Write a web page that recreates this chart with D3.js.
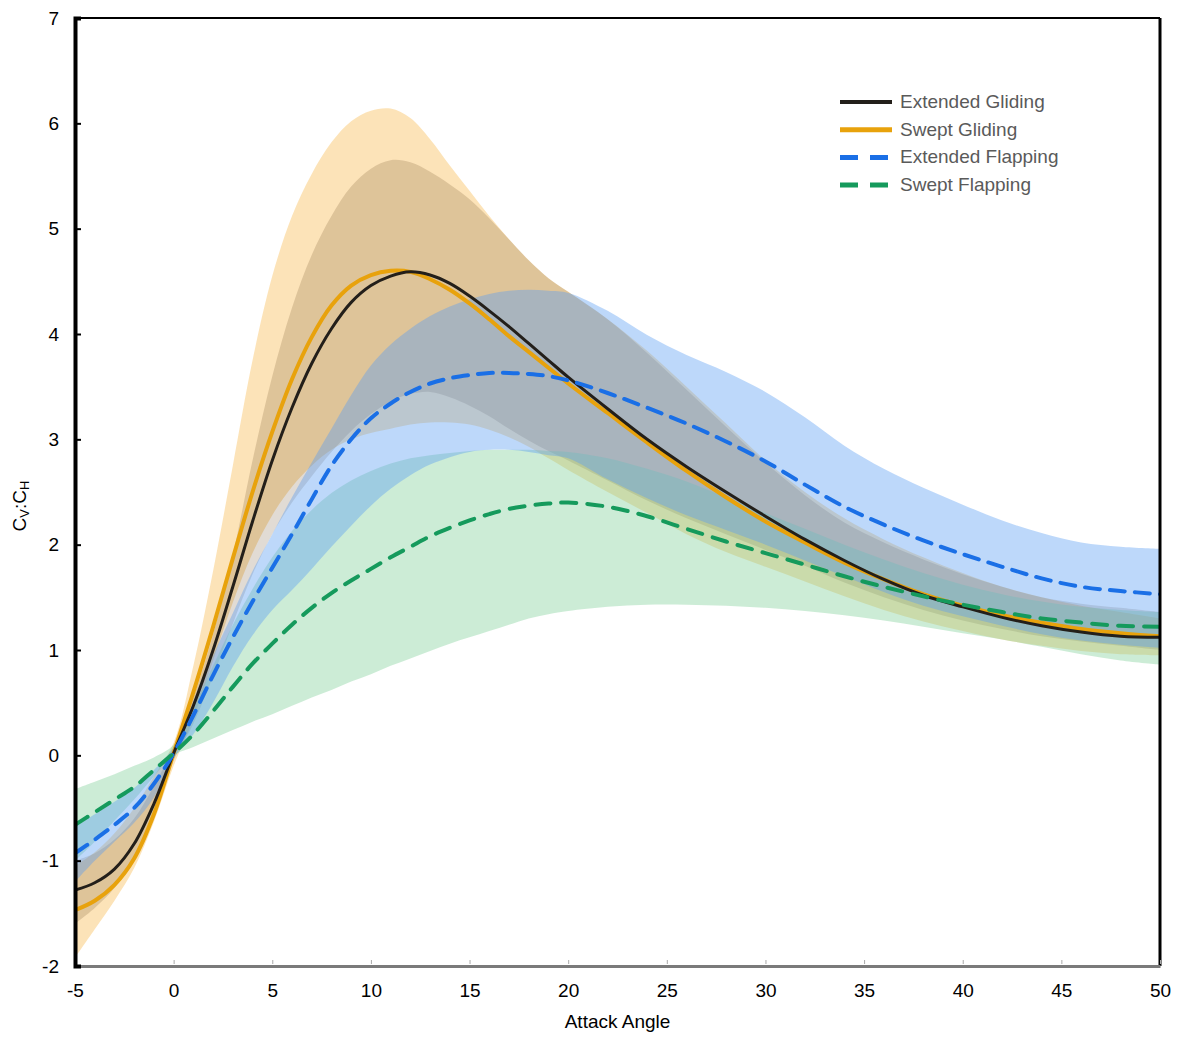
<!DOCTYPE html>
<html>
<head>
<meta charset="utf-8">
<script src="https://cdn.jsdelivr.net/npm/d3@7"></script>
<style>
  body { margin: 0; background: #fff; }
  text { font-family: "Liberation Sans", Arial, sans-serif; }
</style>
</head>
<body>
<div class="chart"></div>
<script>
// attack angles where values were read
var angles = [-5, -4, -3, -2, -1, 0, 1, 2, 3, 4, 5, 6, 7, 8, 9, 10, 11, 12, 13, 14, 15, 16, 17, 18, 19, 20,
    22, 24, 26, 28, 30, 32, 34, 36, 38, 40, 42, 44, 46, 48, 50];

var extGlideMean = [-1.28, -1.21, -1.08, -0.84, -0.46, 0.02, 0.47, 1.0, 1.6, 2.22, 2.8, 3.3, 3.72, 4.05, 4.3, 4.46, 4.55, 4.59, 4.56, 4.48, 4.36, 4.22, 4.07, 3.91, 3.75, 3.59,
    3.29, 3.0, 2.74, 2.5, 2.27, 2.05, 1.85, 1.67, 1.52, 1.41, 1.31, 1.23, 1.17, 1.13, 1.12];
var extGlideHi = [-1.0, -0.93, -0.8, -0.6, -0.29, 0.08, 0.55, 1.15, 1.9, 2.8, 3.6, 4.25, 4.75, 5.12, 5.4, 5.57, 5.65, 5.63, 5.54, 5.42, 5.28, 5.1, 4.9, 4.7, 4.53, 4.4,
    4.14, 3.82, 3.47, 3.12, 2.78, 2.47, 2.21, 2.02, 1.86, 1.72, 1.6, 1.5, 1.44, 1.4, 1.36];
var extGlideLo = [-1.6, -1.45, -1.26, -1.0, -0.6, -0.05, 0.3, 0.75, 1.25, 1.72, 2.1, 2.4, 2.65, 2.88, 3.08, 3.24, 3.36, 3.43, 3.45, 3.4, 3.32, 3.22, 3.1, 2.99, 2.89, 2.8,
    2.61, 2.42, 2.25, 2.1, 1.95, 1.8, 1.64, 1.5, 1.38, 1.28, 1.2, 1.13, 1.08, 1.04, 1.0];

var swGlideMean = [-1.47, -1.38, -1.23, -0.98, -0.56, 0.02, 0.6, 1.22, 1.87, 2.5, 3.07, 3.57, 3.97, 4.27, 4.46, 4.56, 4.6, 4.59, 4.52, 4.42, 4.29, 4.14, 3.98, 3.83, 3.68, 3.53,
    3.25, 2.97, 2.7, 2.45, 2.22, 2.02, 1.83, 1.67, 1.53, 1.42, 1.33, 1.26, 1.2, 1.16, 1.13];
var swGlideHi = [-1.05, -0.92, -0.74, -0.5, -0.2, 0.12, 0.85, 1.75, 2.75, 3.75, 4.55, 5.12, 5.52, 5.82, 6.02, 6.12, 6.14, 6.05, 5.85, 5.6, 5.36, 5.12, 4.9, 4.7, 4.53, 4.4,
    4.14, 3.84, 3.5, 3.15, 2.8, 2.5, 2.25, 2.05, 1.88, 1.73, 1.6, 1.5, 1.42, 1.36, 1.3];
var swGlideLo = [-1.92, -1.65, -1.38, -1.07, -0.63, -0.1, 0.35, 0.9, 1.45, 1.92, 2.28, 2.55, 2.75, 2.9, 3.0, 3.06, 3.1, 3.14, 3.16, 3.16, 3.14, 3.09, 3.02, 2.93, 2.82, 2.71,
    2.5, 2.3, 2.1, 1.93, 1.79, 1.65, 1.51, 1.38, 1.27, 1.18, 1.1, 1.04, 0.99, 0.96, 0.95];

var extFlapMean = [-0.93, -0.8, -0.66, -0.5, -0.27, 0.02, 0.38, 0.76, 1.12, 1.46, 1.78, 2.1, 2.43, 2.75, 3.0, 3.2, 3.34, 3.45, 3.53, 3.58, 3.61, 3.63, 3.63, 3.62, 3.6, 3.56,
    3.44, 3.3, 3.15, 2.98, 2.79, 2.57, 2.36, 2.19, 2.04, 1.91, 1.79, 1.68, 1.6, 1.56, 1.53];
var extFlapHi = [-0.68, -0.56, -0.44, -0.31, -0.14, 0.08, 0.5, 0.95, 1.35, 1.75, 2.1, 2.45, 2.78, 3.1, 3.42, 3.7, 3.9, 4.05, 4.17, 4.26, 4.33, 4.38, 4.41, 4.42, 4.41, 4.39,
    4.22, 3.99, 3.8, 3.64, 3.45, 3.21, 2.94, 2.72, 2.54, 2.38, 2.23, 2.11, 2.02, 1.98, 1.96];
var extFlapLo = [-1.2, -1.0, -0.82, -0.64, -0.4, -0.03, 0.2, 0.5, 0.84, 1.14, 1.38, 1.57, 1.77, 1.98, 2.18, 2.37, 2.53, 2.66, 2.76, 2.83, 2.88, 2.9, 2.9, 2.88, 2.85, 2.82,
    2.62, 2.44, 2.28, 2.14, 2.0, 1.85, 1.7, 1.55, 1.42, 1.32, 1.23, 1.15, 1.09, 1.05, 1.02];

var swFlapMean = [-0.66, -0.54, -0.42, -0.3, -0.14, 0.02, 0.2, 0.42, 0.65, 0.87, 1.06, 1.24, 1.4, 1.54, 1.66, 1.77, 1.88, 1.98, 2.08, 2.16, 2.23, 2.29, 2.34, 2.37, 2.39, 2.4,
    2.36, 2.27, 2.15, 2.03, 1.92, 1.81, 1.7, 1.6, 1.51, 1.43, 1.36, 1.3, 1.26, 1.23, 1.22];
var swFlapHi = [-0.32, -0.25, -0.18, -0.1, -0.02, 0.1, 0.45, 0.85, 1.24, 1.58, 1.88, 2.13, 2.33, 2.49, 2.61, 2.7, 2.77, 2.82, 2.85, 2.87, 2.89, 2.9, 2.9, 2.9, 2.89, 2.88,
    2.82, 2.72, 2.6, 2.45, 2.3, 2.15, 2.0, 1.86, 1.73, 1.62, 1.53, 1.46, 1.41, 1.38, 1.36];
var swFlapLo = [-1.0, -0.82, -0.62, -0.42, -0.2, 0.0, 0.08, 0.16, 0.24, 0.32, 0.39, 0.47, 0.55, 0.62, 0.7, 0.77, 0.85, 0.92, 0.99, 1.06, 1.12, 1.18, 1.24, 1.3, 1.34, 1.37,
    1.41, 1.43, 1.43, 1.42, 1.4, 1.37, 1.33, 1.28, 1.22, 1.16, 1.1, 1.03, 0.96, 0.9, 0.86];

var xTicks = [-5, 0, 5, 10, 15, 20, 25, 30, 35, 40, 45, 50];
var yTicks = [-2, -1, 0, 1, 2, 3, 4, 5, 6, 7];
var seriesNames = ["Extended Gliding", "Swept Gliding", "Extended Flapping", "Swept Flapping"];

var margins = { top: 18, left: 75, right: 25, bottom: 72 };
var width = 1185 - margins.left - margins.right;
var height = 1038 - margins.top - margins.bottom;

var svg = d3.select('.chart')
    .append('svg')
    .attr('width', 1185)
    .attr('height', 1038)
    .append('g')
    .attr('transform', 'translate(' + margins.left + ',' + margins.top + ')');

var xScale = d3.scaleLinear().domain([-5, 50]).range([0, width]);
var yScale = d3.scaleLinear().domain([-2, 7]).range([height, 0]);

svg.append('clipPath').attr('id', 'plot')
    .append('rect').attr('width', width).attr('height', height);

var plot = svg.append('g').attr('clip-path', 'url(#plot)');

var smooth = d3.curveCatmullRom.alpha(0.5);

function band(lo, hi) {
    return d3.area()
        .x(function (d, i) { return xScale(angles[i]); })
        .y0(function (d, i) { return yScale(lo[i]); })
        .y1(function (d, i) { return yScale(hi[i]); })
        .curve(smooth)(angles);
}

function line(vals) {
    return d3.line()
        .x(function (d, i) { return xScale(angles[i]); })
        .y(function (d, i) { return yScale(vals[i]); })
        .curve(smooth)(angles);
}

// shaded ranges
plot.append('path').attr('d', band(swGlideLo, swGlideHi))
    .attr('fill', '#f7b23a').attr('fill-opacity', 0.36);
plot.append('path').attr('d', band(extGlideLo, extGlideHi))
    .attr('fill', '#5a3a10').attr('fill-opacity', 0.18);
plot.append('path').attr('d', band(swFlapLo, swFlapHi))
    .attr('fill', '#7fcf98').attr('fill-opacity', 0.4);
plot.append('path').attr('d', band(extFlapLo, extFlapHi))
    .attr('fill', '#5b9ef2').attr('fill-opacity', 0.4);

// mean lines
var styles = [
    { vals: extGlideMean, color: '#231f1a', w: 3, dash: null },
    { vals: swGlideMean, color: '#e8a20c', w: 4, dash: null },
    { vals: extFlapMean, color: '#1a6fe6', w: 4, dash: '15,10' },
    { vals: swFlapMean, color: '#159a5c', w: 4, dash: '15,11' }
];
var drawOrder = [1, 0, 2, 3];
drawOrder.forEach(function (k) {
    var s = styles[k];
    plot.append('path').attr('d', line(s.vals))
        .attr('fill', 'none')
        .attr('stroke', s.color)
        .attr('stroke-width', s.w)
        .attr('stroke-linecap', 'round')
        .attr('stroke-dasharray', s.dash);
});

// frame
svg.append('line').attr('x1', 0).attr('x2', width).attr('y1', 0).attr('y2', 0)
    .attr('stroke', '#000').attr('stroke-width', 2);
svg.append('line').attr('x1', width).attr('x2', width).attr('y1', 0).attr('y2', height)
    .attr('stroke', '#000').attr('stroke-width', 3);

// x axis
var xAxis = d3.axisBottom(xScale).tickValues(xTicks).tickSize(0).tickPadding(18)
    .tickFormat(function (d) { return String(d); });
var gx = svg.append('g')
    .attr('transform', 'translate(0,' + height + ')')
    .call(xAxis);
gx.select('.domain').attr('stroke', '#7a7a7a').attr('stroke-width', 3);
gx.selectAll('text').style('font-size', '19px').attr('fill', '#000');
gx.selectAll('.tick').append('line')
    .attr('y1', -2).attr('y2', -6).attr('stroke', '#aaa');

// y axis
var yAxis = d3.axisLeft(yScale).tickValues(yTicks).tickSize(-6).tickPadding(16)
    .tickFormat(function (d) { return String(d); });
var gy = svg.append('g').call(yAxis);
gy.select('.domain').attr('stroke', '#000').attr('stroke-width', 4);
gy.selectAll('.tick line').attr('stroke', '#000').attr('stroke-width', 2);
gy.selectAll('text').style('font-size', '19px').attr('fill', '#000');

// axis titles
svg.append('text')
    .attr('x', width / 2).attr('y', height + 62)
    .attr('text-anchor', 'middle')
    .style('font-size', '19px').attr('fill', '#000')
    .text('Attack Angle');

var yt = svg.append('text')
    .attr('transform', 'translate(-49,' + (height / 2 + 14) + ') rotate(-90)')
    .attr('text-anchor', 'middle')
    .style('font-size', '19px').attr('fill', '#000');
yt.append('tspan').text('C');
yt.append('tspan').attr('baseline-shift', '-25%').style('font-size', '13px').text('V');
yt.append('tspan').text(':C');
yt.append('tspan').attr('baseline-shift', '-25%').style('font-size', '13px').text('H');

// legend
seriesNames.forEach(function (name, i) {
    var s = styles[i];
    var ly = 84 + i * 27.7;
    svg.append('line')
        .attr('x1', 765).attr('x2', 817).attr('y1', ly).attr('y2', ly)
        .attr('stroke', s.color).attr('stroke-width', s.w + 1)
        .attr('stroke-dasharray', s.dash ? '18,12' : null);
    svg.append('text')
        .attr('x', 825).attr('y', ly + 6)
        .style('font-size', '19px').attr('fill', '#5a5a5a')
        .text(name);
});
</script>
</body>
</html>
